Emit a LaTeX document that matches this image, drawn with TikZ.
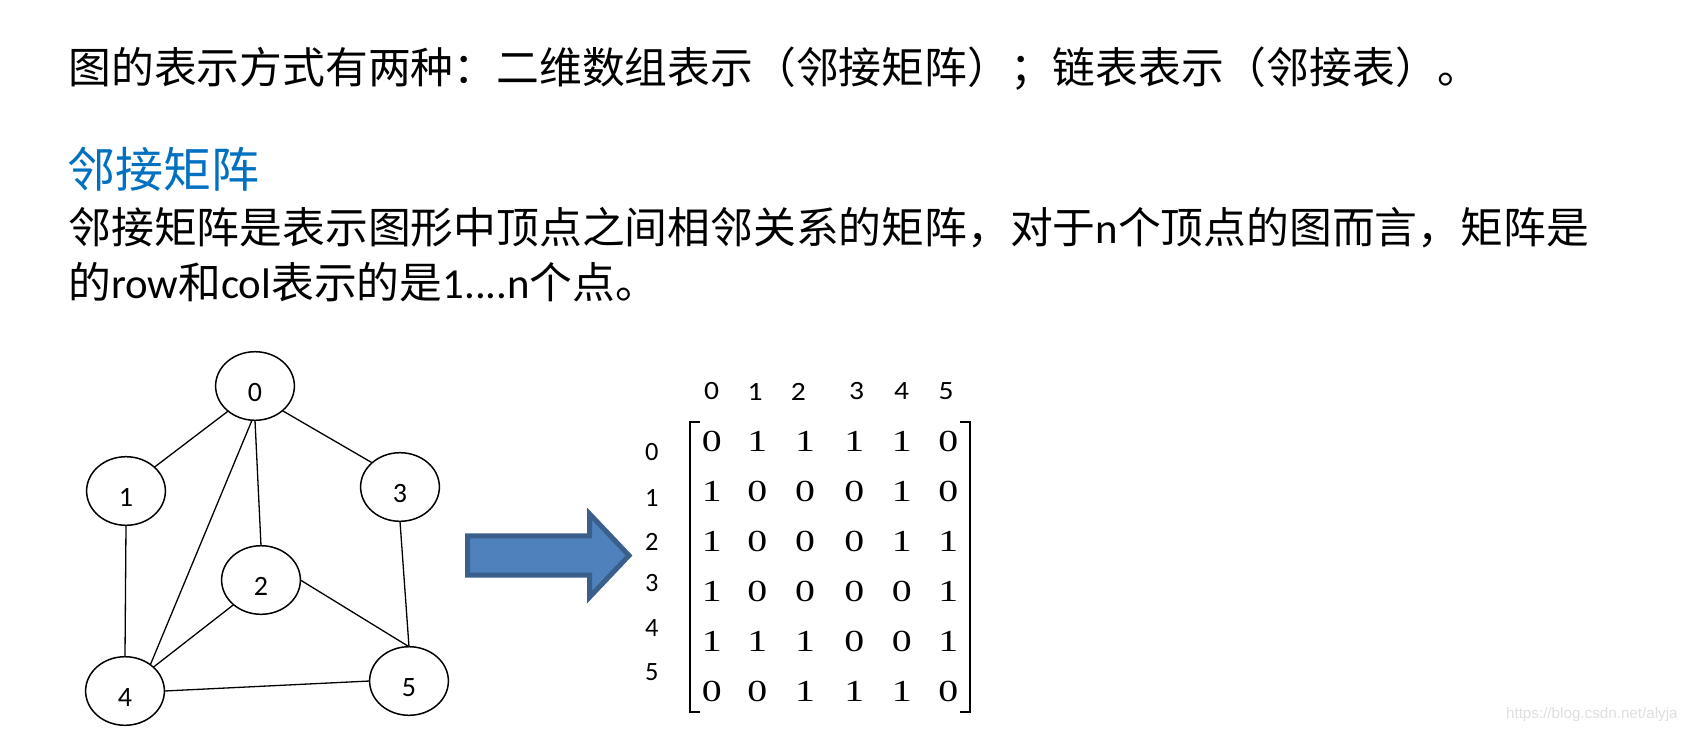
\documentclass[tikz,border=0pt]{standalone}
\usepackage{fontspec}
\usepackage{graphicx}
\setmainfont{Carlito}
\newfontfamily\cjk{Noto Sans CJK SC}
\newfontfamily\tnr{Liberation Serif}
\newfontfamily\wmfont{Liberation Sans}
\usetikzlibrary{shapes.geometric}
\definecolor{titleblue}{HTML}{0070C0}
\definecolor{arrowfill}{HTML}{4F81BD}
\definecolor{arrowline}{HTML}{3A5F8B}
\begin{document}
\begin{tikzpicture}[x=0.5pt,y=-0.5pt,
  vert/.style={ellipse,draw,line width=0.75pt,minimum width=39.4pt,minimum height=34.3pt,inner sep=0pt,outer sep=0pt},
  lbl/.style={font=\fontsize{14}{16}\selectfont,yshift=-3.3pt},
  edge/.style={line width=0.65pt},
  para/.style={anchor=west,inner sep=0pt,font=\fontsize{21.4}{25}\selectfont},
  hdr/.style={inner sep=0pt,font=\fontsize{13.2}{15}\selectfont},
  ent/.style={inner sep=0pt,font=\tnr\fontsize{15.3}{17}\selectfont},
  bracket/.style={line width=1pt},
]
\path[use as bounding box] (0,0) rectangle (1686,734);

% text
\node[para] (t1) at (68,69) {\cjk 图的表示方式有两种：二维数组表示（邻接矩阵）；链表表示（邻接表）。};
\node[para,text=titleblue,font=\cjk\fontsize{24}{28}\selectfont] (t2) at (67,169) {邻接矩阵};
\node[para] (t3) at (68,228) {{\cjk 邻接矩阵是表示图形中顶点之间相邻关系的矩阵，对于}n{\cjk 个顶点的图而言，矩阵是}};
\node[para] (t4) at (68,282) {{\cjk 的}row{\cjk 和}col{\cjk 表示的是}1....n{\cjk 个点。}};

% graph
\node[vert,label={[lbl]center:0}] (n0) at (255,386) {};
\node[vert,label={[lbl]center:1}] (n1) at (126,491) {};
\node[vert,label={[lbl]center:3}] (n3) at (400,487) {};
\node[vert,label={[lbl]center:2}] (n2) at (261,580) {};
\node[vert,label={[lbl]center:4}] (n4) at (125,691) {};
\node[vert,label={[lbl]center:5}] (n5) at (409,681) {};

\draw[edge] (n0.223) -- (n1.40);
\draw[edge] (n0.318) -- (n3.139);
\draw[edge] (n0.south) -- (n2.north);
\draw[edge] (n0.265) -- (n4.46);
\draw[edge] (n1.south) -- (n4.north);
\draw[edge] (n3.south) -- (n5.north);
\draw[edge] (n2.east) -- (n5.north);
\draw[edge] (n2.222) -- (n4.40);
\draw[edge] (n4.east) -- (n5.west);

% block arrow
\draw[line width=2.5pt,draw=arrowline,fill=arrowfill,line join=miter]
  (467.5,535.8) -- (589.7,535.8) -- (589.7,514) -- (629,555.5) -- (589.7,597) -- (589.7,575) -- (467.5,575) -- cycle;

% column headers
\foreach \c/\x in {0/711.7,1/755,2/798.3,3/856.7,4/901.7,5/946}
  \node[hdr] (ch\c) at (\x,391.5) {\scalebox{1.12}[1]{\c}};
% row headers
\foreach \r/\y in {0/451.7,1/498.3,2/541.7,3/583.3,4/628.3,5/671.7}
  \node[hdr] (rh\r) at (651.7,\y) {\r};

% matrix entries
\foreach \r/\y/\row in {0/441.7/{0,1,1,1,1,0},1/491.7/{1,0,0,0,1,0},2/541.7/{1,0,0,0,1,1},3/591.7/{1,0,0,0,0,1},4/641.7/{1,1,1,0,0,1},5/691.7/{0,0,1,1,1,0}}{
  \foreach \v [count=\c from 0] in \row {
    \pgfmathsetmacro{\xx}{{711.7,757.3,805,854.3,901.7,948.3}[\c]}
    \node[ent] (m\r-\c) at (\xx,\y) {\scalebox{1.3}[1]{\v}};
  }
}

% brackets
\draw[bracket] (700,421.7) -- (690,421.7) -- (690,711.7) -- (700,711.7);
\draw[bracket] (960,421.7) -- (970,421.7) -- (970,711.7) -- (960,711.7);

% watermark
\node[anchor=east,inner sep=0pt,text=black!13,font=\wmfont\fontsize{7.6}{9}\selectfont] (wm) at (1678,715) {https://blog.csdn.net/alyja};
\end{tikzpicture}
\end{document}
